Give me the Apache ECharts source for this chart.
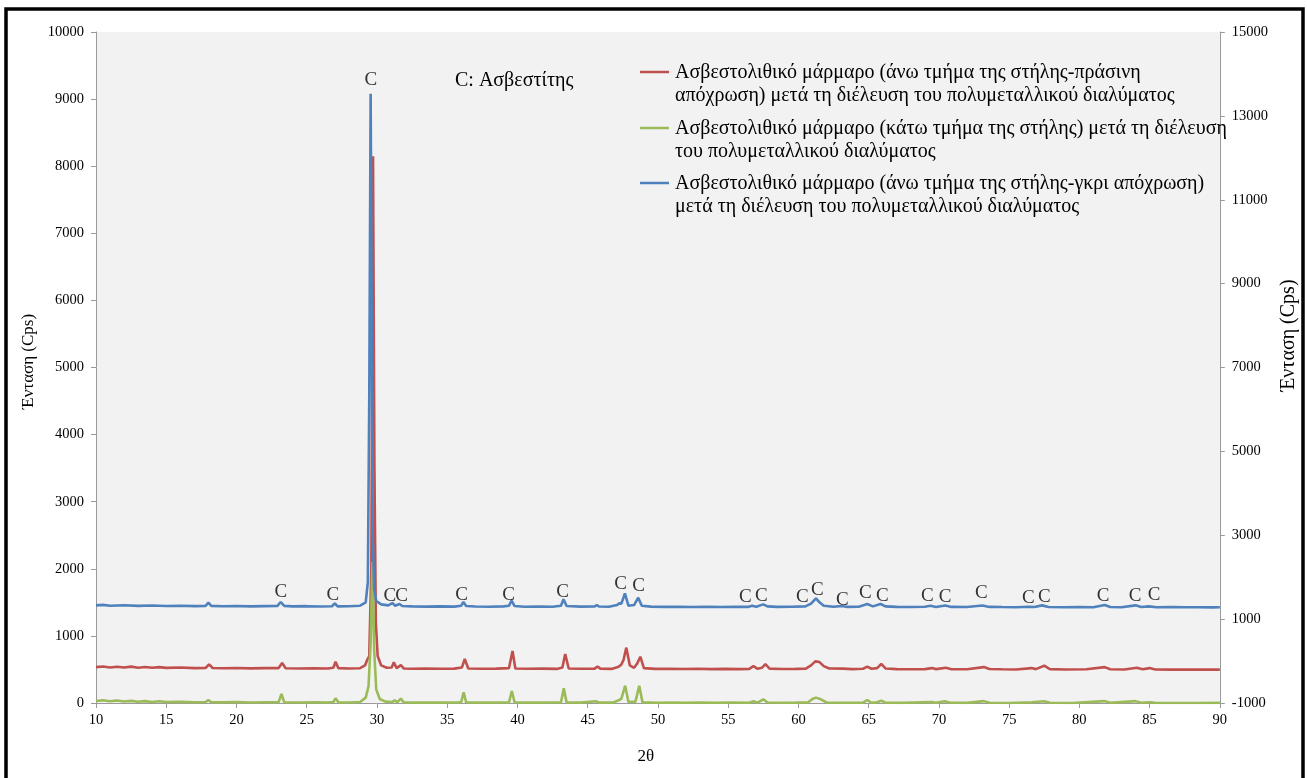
<!DOCTYPE html>
<html>
<head>
<meta charset="utf-8">
<title>XRD – Ασβεστολιθικό μάρμαρο</title>
<script src="https://cdn.jsdelivr.net/npm/echarts@6/dist/echarts.min.js"></script>
<style>
  html, body { margin: 0; padding: 0; background: #ffffff; }
  #chart { width: 1307px; height: 778px; }
</style>
</head>
<body>
<div id="chart"></div>
<script>
// Diffraction patterns, [2θ, intensity (Cps)]
const redName = 'Ασβεστολιθικό μάρμαρο (άνω τμήμα της στήλης-πράσινη απόχρωση) μετά τη διέλευση του πολυμεταλλικού διαλύματος';
const greenName = 'Ασβεστολιθικό μάρμαρο (κάτω τμήμα της στήλης) μετά τη διέλευση του πολυμεταλλικού διαλύματος';
const blueName = 'Ασβεστολιθικό μάρμαρο (άνω τμήμα της στήλης-γκρι απόχρωση) μετά τη διέλευση του πολυμεταλλικού διαλύματος';

const redPattern = [
  [10,535],[10.5,545],[11,528],[11.5,540],[12,530],[12.5,542],[13,526],[13.5,536],[14,525],[14.5,534],
  [15,524],[16,528],[17,520],[17.8,522],[18.05,576],[18.3,522],[19,518],[20,522],[21,516],[22,520],
  [23.0,520],[23.25,596],[23.5,518],[24.5,514],[25.5,518],[26.5,515],[26.9,525],[27.05,616],[27.25,520],
  [28,515],[28.8,518],[29.15,560],[29.3,640],[29.45,700],[29.6,2000],[29.72,8150],[29.82,3500],[29.92,1200],
  [30.05,700],[30.3,560],[30.7,525],[31.05,530],[31.2,606],[31.4,520],[31.7,565],[31.9,515],[32.5,510],
  [33.5,514],[34.5,510],[35.5,512],[36.05,530],[36.25,656],[36.5,515],[37.5,510],[38.5,512],[39.4,520],
  [39.65,775],[39.85,515],[40.8,510],[41.8,512],[42.8,508],[43.2,530],[43.4,730],[43.65,515],[44.5,510],
  [45.5,512],[45.7,545],[45.9,512],[46.7,508],[47.2,540],[47.4,575],[47.55,640],[47.75,825],[48.0,560],
  [48.3,525],[48.5,580],[48.75,690],[49.0,520],[49.8,508],[50.8,510],[51.8,506],[52.8,510],[53.8,505],
  [54.8,508],[55.8,505],[56.5,508],[56.8,550],[57.1,510],[57.4,525],[57.65,580],[57.95,512],[58.8,506],
  [59.8,508],[60.5,510],[60.9,560],[61.2,620],[61.5,610],[61.8,550],[62.2,515],[63.2,512],[63.8,505],
  [64.6,510],[64.9,541],[65.2,510],[65.6,520],[65.9,581],[66.2,515],[67,505],[68,502],[69,505],[69.5,520],
  [69.8,505],[70.5,525],[70.9,504],[72,502],[73.2,535],[73.6,506],[74.5,502],[75.5,500],[76.6,520],
  [76.9,505],[77.5,556],[77.9,505],[79,500],[80.5,502],[81.8,535],[82.2,502],[83.2,500],[84.1,525],
  [84.5,502],[85.0,520],[85.4,500],[86.5,498],[87.5,500],[88.5,497],[89.5,499],[90,498]
];

const greenPattern = [
  [10,30],[10.5,42],[11,25],[11.5,38],[12,22],[12.5,32],[13,18],[13.5,28],[14,15],[14.5,25],[15,14],
  [16,18],[17,12],[17.8,14],[18.0,45],[18.2,12],[19,10],[20,14],[21,8],[22,12],[23.0,12],[23.2,134],
  [23.4,12],[24.5,8],[25.5,10],[26.5,8],[26.9,15],[27.05,70],[27.25,10],[28,8],[28.8,15],[29.2,80],
  [29.4,250],[29.55,900],[29.68,2100],[29.8,800],[29.95,200],[30.2,60],[30.6,20],[31.1,15],[31.25,40],
  [31.45,12],[31.7,65],[31.9,10],[32.8,6],[33.8,8],[34.8,5],[35.8,8],[36.0,15],[36.17,160],[36.35,10],
  [37.5,5],[38.5,8],[39.4,10],[39.6,179],[39.8,8],[41,5],[42,7],[43.1,10],[43.3,219],[43.5,8],[44.5,5],
  [45.6,25],[45.8,5],[46.8,6],[47.2,40],[47.4,65],[47.67,258],[47.9,15],[48.4,20],[48.67,258],[48.9,10],
  [50,4],[51,6],[52,3],[53,5],[54,3],[55,5],[56.5,4],[56.8,25],[57.1,5],[57.5,55],[57.8,8],[58.8,3],
  [59.8,5],[60.7,10],[61.0,60],[61.25,80],[61.6,55],[62.0,8],[63,4],[64.6,5],[64.9,45],[65.2,4],[65.6,10],
  [65.9,35],[66.2,4],[67.5,2],[69.5,15],[69.8,2],[70.4,25],[70.8,3],[72,2],[73.2,28],[73.6,3],[75,1],
  [76.6,10],[77.5,25],[77.9,3],[79.5,1],[81.8,28],[82.2,2],[84.0,28],[84.4,3],[85.0,12],[85.4,2],[87,1],
  [88.5,0],[90,2]
];

const bluePattern = [
  [10,1455],[10.5,1462],[11,1450],[12,1456],[13,1448],[14,1452],[15,1446],[16,1450],[17,1444],[17.8,1448],
  [18.0,1495],[18.2,1448],[19,1442],[20,1446],[21,1440],[22,1444],[22.9,1445],[23.15,1505],[23.4,1448],
  [24,1440],[25,1443],[26,1438],[26.8,1442],[27.0,1485],[27.2,1440],[28,1442],[28.8,1450],[29.2,1500],
  [29.35,1800],[29.45,4500],[29.55,9080],[29.62,6000],[29.7,2500],[29.8,1700],[29.95,1520],[30.3,1470],
  [30.8,1455],[31.1,1490],[31.3,1450],[31.6,1475],[31.8,1445],[32.5,1440],[33.5,1436],[34.5,1440],
  [35.5,1436],[36.0,1450],[36.15,1505],[36.35,1445],[37,1438],[38,1435],[39,1440],[39.4,1450],[39.58,1525],
  [39.8,1445],[40.5,1435],[41.5,1438],[42.5,1434],[43.1,1450],[43.28,1545],[43.5,1445],[44.5,1436],
  [45.5,1440],[45.65,1460],[45.8,1438],[46.5,1435],[47.1,1460],[47.25,1485],[47.4,1480],[47.65,1635],
  [47.9,1450],[48.3,1460],[48.6,1570],[48.85,1450],[49.5,1436],[50.5,1432],[51.5,1435],[52.5,1430],
  [53.5,1434],[54.5,1430],[55.5,1434],[56.4,1432],[56.7,1450],[57.0,1435],[57.5,1470],[57.8,1440],
  [58.5,1432],[59.5,1434],[60.5,1440],[60.9,1480],[61.25,1560],[61.5,1500],[61.8,1450],[62.5,1435],
  [63.1,1445],[63.5,1432],[64.3,1434],[64.9,1475],[65.3,1440],[65.85,1475],[66.2,1440],[67,1432],
  [68,1430],[69,1434],[69.4,1448],[69.8,1432],[70.45,1452],[70.9,1432],[72,1430],[73.1,1452],[73.6,1432],
  [74.5,1430],[75.5,1428],[76.4,1435],[76.8,1430],[77.35,1455],[77.8,1430],[79,1428],[80,1430],[81.0,1428],
  [81.8,1460],[82.2,1430],[83,1428],[84.0,1455],[84.4,1430],[84.95,1440],[85.5,1428],[86.5,1430],
  [87.5,1426],[88.5,1428],[89.5,1425],[90,1428]
];

// Calcite (C) reflection markers, [2θ, label height]
const calciteMarks = [
  [29.56,9285],[23.16,1654],[26.86,1610],[30.91,1595],[31.76,1595],[36.03,1610],[39.37,1610],
  [43.21,1654],[47.34,1773],[48.62,1744],[56.23,1580],[57.37,1595],[60.28,1580],[61.35,1684],
  [63.13,1535],[64.77,1640],[65.98,1595],[69.17,1595],[70.45,1580],[73.02,1640],[76.36,1565],
  [77.50,1580],[81.69,1595],[83.97,1595],[85.32,1610]
];

// Axis ranges and tick steps
const xRange = [10, 90, 5];
const leftRange = [0, 10000, 1000];
const rightRange = [-1000, 15000, 2000];

const SERIF = '"Liberation Serif", "Times New Roman", serif';
const RED = '#C0504D', GREEN = '#9BBB59', BLUE = '#4F81BD';

const legendEntries = [
  { color: RED, y: 72, text: 'Ασβεστολιθικό μάρμαρο (άνω τμήμα της στήλης-πράσινη\nαπόχρωση) μετά τη διέλευση του πολυμεταλλικού διαλύματος' },
  { color: GREEN, y: 128, text: 'Ασβεστολιθικό μάρμαρο (κάτω τμήμα της στήλης) μετά τη διέλευση\nτου πολυμεταλλικού διαλύματος' },
  { color: BLUE, y: 183, text: 'Ασβεστολιθικό μάρμαρο (άνω τμήμα της στήλης-γκρι απόχρωση)\nμετά τη διέλευση του πολυμεταλλικού διαλύματος' }
];

const chart = echarts.init(document.getElementById('chart'), null, { renderer: 'canvas' });

const axisLine = { show: true, lineStyle: { color: '#9a9a9a', width: 1 } };
const axisTick = { show: true, length: 5, lineStyle: { color: '#9a9a9a' } };
const plain = v => String(v);
const labelFont = { color: '#000', fontFamily: SERIF, fontSize: 14.5, formatter: plain };
const nameFont = { color: '#000', fontFamily: SERIF, fontSize: 17 };

const graphics = [
  { type: 'rect', shape: { x: 6, y: 9, width: 1297, height: 800 },
    style: { fill: 'none', stroke: '#000', lineWidth: 3.5 }, silent: true, z: 100 },
  { type: 'text', x: 455, y: 81,
    style: { text: 'C: Ασβεστίτης', fill: '#000', font: '20px ' + SERIF, verticalAlign: 'middle' }, z: 50 }
];
legendEntries.forEach(e => {
  graphics.push({ type: 'line', shape: { x1: 640, y1: e.y, x2: 669, y2: e.y },
    style: { stroke: e.color, lineWidth: 2.5 }, z: 50 });
  graphics.push({ type: 'text', x: 675, y: e.y - 11,
    style: { text: e.text, fill: '#000', font: '20px ' + SERIF, lineHeight: 23, verticalAlign: 'top' }, z: 50 });
});

const lineSeries = (name, color, data) => ({
  name, type: 'line', data, yAxisIndex: 0, symbol: 'none', showSymbol: false,
  sampling: null, smooth: false, animation: false,
  lineStyle: { color, width: 2.6 }, itemStyle: { color }
});

chart.setOption({
  backgroundColor: '#ffffff',
  animation: false,
  grid: { left: 96, right: 86, top: 32, bottom: 75, show: true,
          backgroundColor: '#f2f2f2', borderWidth: 0 },
  xAxis: {
    type: 'value', min: xRange[0], max: xRange[1], interval: xRange[2],
    name: '2θ', nameLocation: 'middle', nameGap: 45,
    nameTextStyle: Object.assign({ padding: [0, 24, 0, 0] }, nameFont),
    axisLine, axisTick, splitLine: { show: false },
    axisLabel: Object.assign({ margin: 10 }, labelFont)
  },
  yAxis: [
    {
      type: 'value', min: leftRange[0], max: leftRange[1], interval: leftRange[2],
      name: 'Ένταση (Cps)', nameLocation: 'middle', nameGap: 55, nameRotate: 90,
      nameTextStyle: Object.assign({ padding: [0, 0, 0, 12] }, nameFont),
      axisLine, axisTick, splitLine: { show: false },
      axisLabel: Object.assign({ margin: 12 }, labelFont)
    },
    {
      type: 'value', position: 'right', min: rightRange[0], max: rightRange[1], interval: rightRange[2],
      name: 'Ένταση (Cps)', nameLocation: 'middle', nameGap: 54, nameRotate: 90,
      nameTextStyle: Object.assign({ padding: [0, 0, 0, 64] }, nameFont, { fontSize: 20 }),
      axisLine, axisTick, splitLine: { show: false },
      axisLabel: Object.assign({ margin: 12 }, labelFont)
    }
  ],
  series: [
    lineSeries(redName, RED, redPattern),
    lineSeries(greenName, GREEN, greenPattern),
    lineSeries(blueName, BLUE, bluePattern),
    {
      name: 'C', type: 'scatter', data: calciteMarks, yAxisIndex: 0,
      symbol: 'circle', symbolSize: 2, itemStyle: { color: 'rgba(0,0,0,0)' }, silent: true, z: 5,
      label: { show: true, position: 'inside', formatter: 'C',
               color: '#000', fontFamily: SERIF, fontSize: 19 }
    }
  ],
  graphic: graphics
});
</script>
</body>
</html>
